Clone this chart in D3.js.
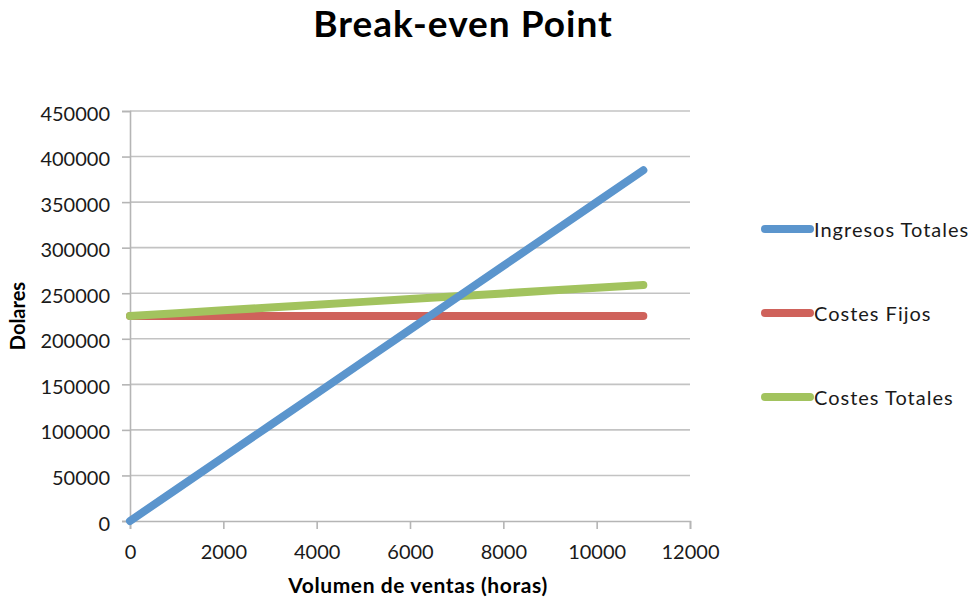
<!DOCTYPE html>
<html><head><meta charset="utf-8">
<script src="https://cdn.jsdelivr.net/npm/d3@7"></script>
<style>body{margin:0;background:#fff;} svg{display:block;font-family:Lato,"Open Sans",sans-serif;}</style>
</head><body>
<svg id="chart" width="972" height="602"></svg>
<script>
const title = "Break-even Point";
const xTitle = "Volumen de ventas (horas)";
const yTitle = "Dolares";
const hours = [0, 1000, 2000, 3000, 4000, 5000, 6000, 7000, 8000, 9000, 10000, 11000];
const ingresosTotales = [0, 35000, 70000, 105000, 140000, 175000, 210000, 245000, 280000, 315000, 350000, 385000];
const costesFijos = [225000, 225000, 225000, 225000, 225000, 225000, 225000, 225000, 225000, 225000, 225000, 225000];
const costesTotales = [225000, 228100, 231200, 234300, 237400, 240500, 243600, 246700, 249800, 252900, 256000, 259100];
const seriesNames = ["Ingresos Totales", "Costes Fijos", "Costes Totales"];
const seriesColors = ["#5B95CD", "#CF625B", "#A2C35E"];
const xTicks = [0, 2000, 4000, 6000, 8000, 10000, 12000];
const yTicks = [0, 50000, 100000, 150000, 200000, 250000, 300000, 350000, 400000, 450000];

const svg = d3.select("#chart");
const x = d3.scaleLinear().domain([0, 12000]).range([130, 690]);
const y = d3.scaleLinear().domain([0, 450000]).range([521, 111]);

// gridlines
svg.append("g").selectAll("line").data(yTicks.slice(1)).join("line")
  .attr("x1", 130).attr("x2", 690).attr("y1", d => y(d)).attr("y2", d => y(d))
  .attr("stroke", "#c3c3c3").attr("stroke-width", 1.6);

// y axis
const yAxis = svg.append("g").attr("transform", "translate(130,0)")
  .call(d3.axisLeft(y).tickValues(yTicks).tickSize(8).tickPadding(12).tickFormat(d3.format("d")));
yAxis.select(".domain").attr("stroke", "#b5b5b5").attr("stroke-width", 1.6);
yAxis.selectAll(".tick line").attr("stroke", "#b5b5b5").attr("stroke-width", 1.6);
yAxis.selectAll("text").attr("font-size", 20).attr("dy", "0.45em").attr("fill", "#1a1a1a").attr("font-family", "Lato, sans-serif");

// x axis
const xAxis = svg.append("g").attr("transform", "translate(0,521)")
  .call(d3.axisBottom(x).tickValues(xTicks).tickSize(8).tickPadding(16).tickFormat(d3.format("d")));
xAxis.select(".domain").attr("stroke", "#b5b5b5").attr("stroke-width", 1.6);
xAxis.selectAll(".tick line").attr("stroke", "#b5b5b5").attr("stroke-width", 1.6);
xAxis.selectAll("text").attr("font-size", 20).attr("fill", "#1a1a1a").attr("font-family", "Lato, sans-serif");

// lines
const allSeries = [ingresosTotales, costesFijos, costesTotales];
const line = d3.line().x((d, i) => x(hours[i])).y(d => y(d));
[1, 2, 0].forEach(k => {
  svg.append("path").datum(allSeries[k]).attr("d", line)
    .attr("fill", "none").attr("stroke", seriesColors[k]).attr("stroke-width", 8)
    .attr("stroke-linecap", "round").attr("stroke-linejoin", "round");
});

// title
svg.append("text").attr("x", 463).attr("y", 37).attr("text-anchor", "middle")
  .attr("font-size", 37).attr("font-weight", "bold").attr("letter-spacing", 1).attr("fill", "#000").text(title);

// axis titles
svg.append("text").attr("x", 418).attr("y", 593).attr("text-anchor", "middle")
  .attr("font-size", 21).attr("font-weight", "bold").attr("letter-spacing", 0.6).attr("fill", "#000").text(xTitle);
svg.append("text").attr("transform", "translate(25,316) rotate(-90)").attr("text-anchor", "middle")
  .attr("font-size", 20).attr("font-weight", "bold").attr("fill", "#000").text(yTitle);

// legend
const legY = [229, 313, 397];
const leg = svg.append("g").selectAll("g").data(seriesNames).join("g")
  .attr("transform", (d, i) => `translate(0,${legY[i]})`);
leg.append("line").attr("x1", 765).attr("x2", 810).attr("y1", 0).attr("y2", 0)
  .attr("stroke", (d, i) => seriesColors[i]).attr("stroke-width", 8).attr("stroke-linecap", "round");
leg.append("text").attr("x", 814).attr("y", 7.5).attr("font-size", 20).attr("letter-spacing", 1).attr("fill", "#1a1a1a").text(d => d);
</script>
</body></html>
